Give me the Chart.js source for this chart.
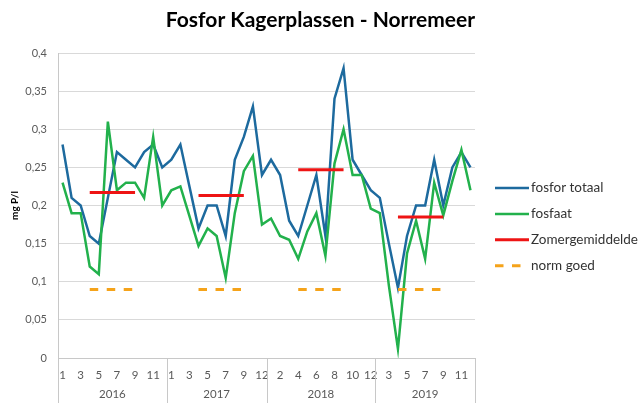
<!DOCTYPE html>
<html><head><meta charset="utf-8">
<script src="https://cdn.jsdelivr.net/npm/chart.js@4/dist/chart.umd.min.js"></script>
<style>html,body{margin:0;padding:0;background:#fff}#wrap{width:644px;height:403px;position:relative}canvas{display:block}</style>
</head><body><div id="wrap"><canvas id="c" width="644" height="403" style="width:644px;height:403px"></canvas></div>
<script>
const monthLabels = ['1','2','3','4','5','6','7','8','9','10','11','12',
  '1','2','3','4','5','6','7','8','9','10','12',
  '1','2','3','4','5','6','7','8','9','10','11','12',
  '1','3','4','5','6','7','8','9','10','11','12'];
const years = ['2016','2017','2018','2019'];
const fosforTotaal = [0.28,0.21,0.20,0.16,0.15,0.21,0.27,0.26,0.25,0.27,0.28,0.25,
  0.26,0.28,0.225,0.17,0.20,0.20,0.16,0.26,0.29,0.33,0.24,
  0.26,0.24,0.18,0.16,0.20,0.24,0.16,0.34,0.38,0.26,0.24,0.22,
  0.21,0.15,0.092,0.16,0.20,0.20,0.26,0.20,0.25,0.27,0.25];
const fosfaat = [0.23,0.19,0.19,0.12,0.11,0.31,0.22,0.23,0.23,0.21,0.29,0.20,
  0.22,0.225,0.186,0.147,0.17,0.16,0.105,0.19,0.245,0.265,0.175,
  0.183,0.16,0.155,0.13,0.166,0.19,0.134,0.255,0.30,0.24,0.24,0.196,
  0.19,0.095,0.012,0.137,0.18,0.13,0.23,0.187,0.232,0.273,0.22];
const zomergemiddelde = [null,null,null,0.217,0.217,0.217,0.217,0.217,0.217,null,null,null,
  null,null,null,0.213,0.213,0.213,0.213,0.213,0.213,null,null,
  null,null,null,0.247,0.247,0.247,0.247,0.247,0.247,null,null,null,
  null,null,0.185,0.185,0.185,0.185,0.185,0.185,null,null,null];
const normGoed = [null,null,null,0.09,0.09,0.09,0.09,0.09,0.09,null,null,null,
  null,null,null,0.09,0.09,0.09,0.09,0.09,0.09,null,null,
  null,null,null,0.09,0.09,0.09,0.09,0.09,0.09,null,null,null,
  null,null,0.09,0.09,0.09,0.09,0.09,0.09,null,null,null];

// year groups derived from month labels
const groups = [];
monthLabels.forEach((m, i) => {
  if (i === 0 || +m <= +monthLabels[i - 1]) groups.push({start: i, end: i});
  else groups[groups.length - 1].end = i;
});

const FONT = 'Lato';
const decor = {
  id: 'decor',
  afterDraw(chart) {
    const ctx = chart.ctx, ca = chart.chartArea, yr = chart.scales.yr;
    ctx.save();
    ctx.strokeStyle = '#c8c8c8'; ctx.lineWidth = 1;
    const bounds = groups.map(g => g.start - 0.5).concat([monthLabels.length - 0.5]);
    bounds.forEach(b => {
      const x = Math.round(yr.getPixelForValue(b)) + 0.5;
      ctx.beginPath(); ctx.moveTo(x, ca.bottom); ctx.lineTo(x, chart.height); ctx.stroke();
    });
    // legend
    const x0 = ca.right + 20, y0 = ca.top + 135, step = 25.9;
    chart.data.datasets.forEach((ds, k) => {
      const y = y0 + k * step;
      ctx.save();
      ctx.strokeStyle = ds.borderColor; ctx.lineWidth = ds.borderWidth;
      ctx.setLineDash(ds.borderDash || []);
      ctx.beginPath(); ctx.moveTo(x0, y); ctx.lineTo(x0 + 34, y); ctx.stroke();
      ctx.restore();
      ctx.fillStyle = '#333333'; ctx.font = '13.5px ' + FONT; ctx.textBaseline = 'middle';
      ctx.fillText(ds.label, x0 + 36, y);
    });
    ctx.restore();
  }
};

new Chart(document.getElementById('c'), {
  type: 'line',
  data: {
    labels: monthLabels,
    datasets: [
      {label: 'fosfor totaal', data: fosforTotaal, borderColor: '#1d6a9e', borderWidth: 2.5, order: 3},
      {label: 'fosfaat', data: fosfaat, borderColor: '#22b14c', borderWidth: 2.5, order: 2},
      {label: 'Zomergemiddelde', data: zomergemiddelde, borderColor: '#ee1414', borderWidth: 3, order: 1, spanGaps: false},
      {label: 'norm goed', data: normGoed, borderColor: '#f5a31a', borderWidth: 3, borderDash: [8.5, 8.5], order: 0, spanGaps: false}
    ]
  },
  options: {
    responsive: false,
    maintainAspectRatio: false,
    animation: false,
    devicePixelRatio: 1,
    layout: {padding: {left: 0, right: 169, top: 0, bottom: 0}},
    elements: {point: {radius: 0}, line: {tension: 0, fill: false, borderCapStyle: 'butt'}},
    plugins: {
      legend: {display: false},
      tooltip: {enabled: false},
      title: {display: true, text: 'Fosfor Kagerplassen - Norremeer', align: 'end',
        font: {family: FONT, size: 21, weight: 'bold'}, color: '#000',
        padding: {top: 8, bottom: 19.8}}
    },
    scales: {
      x: {
        type: 'category', offset: true, weight: 0,
        grid: {display: false, drawTicks: false},
        border: {display: true, color: '#c8c8c8'},
        ticks: {autoSkip: false, maxRotation: 0, minRotation: 0, padding: 10,
          callback: (v, i) => i % 2 === 0 ? monthLabels[i] : '',
          font: {family: FONT, size: 11.5}, color: '#595959'},
        afterFit: ax => { ax.height = 28; }
      },
      yr: {
        type: 'linear', position: 'bottom', weight: 1,
        min: -0.5, max: monthLabels.length - 0.5,
        afterBuildTicks: ax => { ax.ticks = groups.map(g => ({value: (g.start + g.end) / 2})); },
        grid: {display: false, drawTicks: false},
        border: {display: false},
        ticks: {autoSkip: false, maxRotation: 0, padding: 1,
          callback: (v, i) => years[i],
          font: {family: FONT, size: 11.5}, color: '#595959'},
        afterFit: ax => { ax.height = 17; }
      },
      y: {
        min: 0, max: 0.4,
        grid: {color: '#d9d9d9', drawTicks: false},
        border: {display: true, color: '#c8c8c8'},
        ticks: {stepSize: 0.05, padding: 11,
          callback: v => String(+v.toFixed(2)).replace('.', ','),
          font: {family: FONT, size: 11}, color: '#595959'},
        title: {display: true, text: 'mg P/l', font: {family: FONT, size: 10, weight: 'bold'}, color: '#000',
          padding: {top: 9, bottom: 0}},
        afterFit: ax => { ax.width = 58; }
      }
    }
  },
  plugins: [decor]
});
</script>
</body></html>
